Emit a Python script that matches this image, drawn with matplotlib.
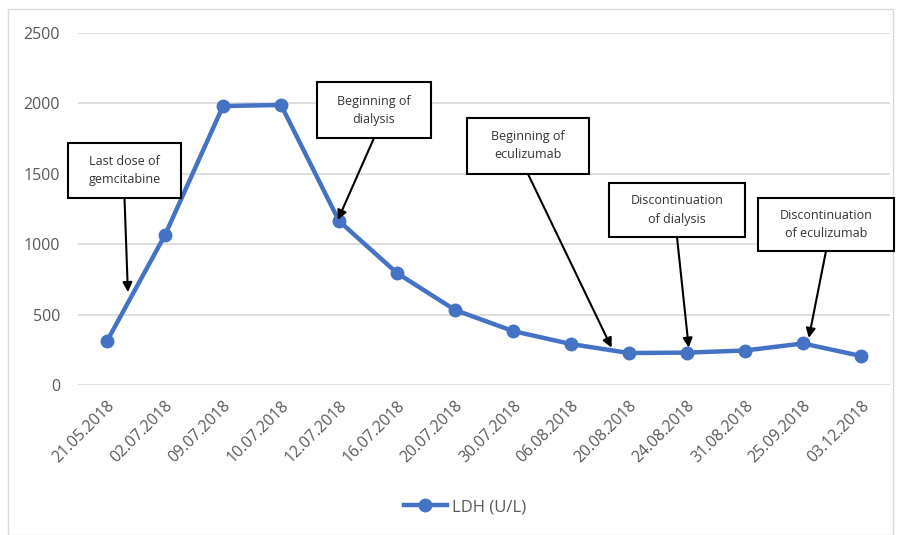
import matplotlib
matplotlib.use("Agg")
import matplotlib.pyplot as plt
from matplotlib.patches import Rectangle

dates = ["21.05.2018", "02.07.2018", "09.07.2018", "10.07.2018", "12.07.2018",
         "16.07.2018", "20.07.2018", "30.07.2018", "06.08.2018", "20.08.2018",
         "24.08.2018", "31.08.2018", "25.09.2018", "03.12.2018"]
ldh = [312, 1065, 1981, 1989, 1165, 795, 533, 383, 291, 227, 230, 245, 295, 206]
series_name = "LDH (U/L)"
yticks = [0, 500, 1000, 1500, 2000, 2500]

# annotation: label, box (left, top, right, bottom) in image pixels, arrow tip (x index, y value)
notes = [
    ("Last dose of\ngemcitabine", (68, 143, 181, 198), (0.36, 660)),
    ("Beginning of\ndialysis", (317, 82, 431, 138), (3.98, 1172)),
    ("Beginning of\neculizumab", (467, 118, 589, 174), (8.70, 265)),
    ("Discontinuation\nof dialysis", (609, 183, 745, 237), (10.03, 265)),
    ("Discontinuation\nof eculizumab", (758, 198, 894, 251), (12.1, 334)),
]

W, H = 902, 535
plt.rcParams['font.family'] = ['Open Sans', 'DejaVu Sans']
fig = plt.figure(figsize=(W / 100, H / 100), dpi=100)
ax = fig.add_axes([78 / W, 1 - 385 / H, (890 - 78) / W, (385 - 33) / H])

x = list(range(len(dates)))
ax.plot(x, ldh, color="#4472C4", lw=3.2, marker="o", ms=9, label=series_name,
        solid_joinstyle="round", zorder=3)
ax.set_xlim(-0.5, len(dates) - 0.5)
ax.set_ylim(0, 2500)
ax.set_yticks(yticks)
ax.set_xticks(x)
ax.set_xticklabels(dates, rotation=45, ha="right", rotation_mode="anchor")
ax.tick_params(axis="both", length=0, colors="#595959")
ax.tick_params(axis="x", pad=9, labelsize=11.3)
ax.tick_params(axis="y", pad=13, labelsize=11.5)
ax.grid(axis="y", color="#D9D9D9", lw=1.2)
ax.set_axisbelow(True)
for s in ax.spines.values():
    s.set_visible(False)

# figure frame
fig.patches.append(Rectangle((8 / W, 0.0), (893 - 8) / W, 1 - 9 / H,
                             transform=fig.transFigure, fill=False,
                             edgecolor="#D9D9D9", lw=1))

for label, (l, t, r, b), (tx, ty) in notes:
    fig.patches.append(Rectangle((l / W, 1 - b / H), (r - l) / W, (b - t) / H,
                                 transform=fig.transFigure, facecolor="white",
                                 edgecolor="black", lw=1.5, zorder=5))
    fig.text((l + r) / 2 / W, 1 - (t + b) / 2 / H, label, ha="center", va="center",
             fontsize=9, color="#333333", linespacing=1.5, zorder=6)
    ax.annotate("", xy=(tx, ty), xycoords="data",
                xytext=((l + r) / 2, H - b), textcoords="figure pixels",
                arrowprops=dict(arrowstyle="-|>", color="black", lw=1.5,
                                mutation_scale=14, shrinkA=0, shrinkB=0),
                annotation_clip=False, zorder=4)

leg = fig.legend(loc="center", bbox_to_anchor=(465 / W, 1 - 507 / H), frameon=False,
                 fontsize=12, handlelength=2.6, handletextpad=0.3, borderpad=0)
for t in leg.get_texts():
    t.set_color("#595959")

fig.savefig("out.png", dpi=100)
